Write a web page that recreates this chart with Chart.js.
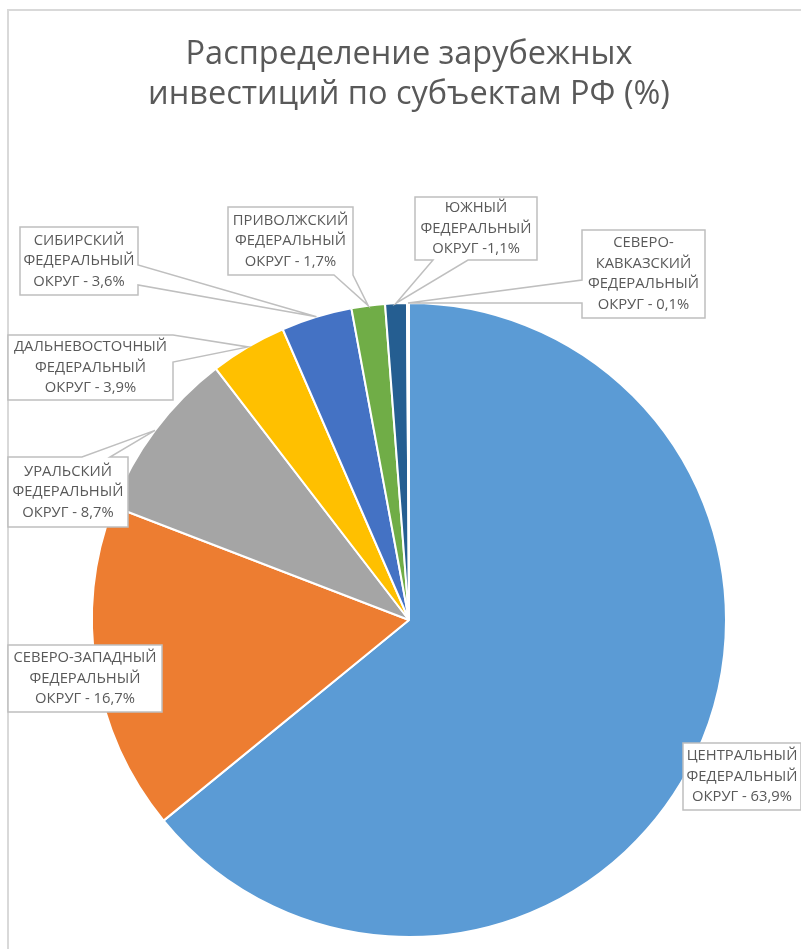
<!DOCTYPE html>
<html>
<head>
<meta charset="utf-8">
<script src="https://cdn.jsdelivr.net/npm/chart.js@4.4.1/dist/chart.umd.min.js"></script>
<style>
  html, body { margin: 0; padding: 0; background: #fff; }
  #wrap { width: 801px; height: 949px; }
</style>
</head>
<body>
<div id="wrap"><canvas id="chart" width="801" height="949"></canvas></div>
<script>
// данные
const okruga = ['ЦЕНТРАЛЬНЫЙ', 'СЕВЕРО-ЗАПАДНЫЙ', 'УРАЛЬСКИЙ', 'ДАЛЬНЕВОСТОЧНЫЙ',
  'СИБИРСКИЙ', 'ПРИВОЛЖСКИЙ', 'ЮЖНЫЙ', 'СЕВЕРО-КАВКАЗСКИЙ'];
const doli = [63.9, 16.7, 8.7, 3.9, 3.6, 1.7, 1.1, 0.1];
const tsveta = ['#5B9BD5', '#ED7D31', '#A5A5A5', '#FFC000', '#4472C4', '#70AD47', '#255E91', '#9E480E'];
const zagolovok = ['Распределение зарубежных', 'инвестиций по субъектам РФ (%)'];

// где стоят подписи (только раскладка)
const vynoski = [
  { x: 683, y: 743, w: 118, h: 67 },
  { x: 8, y: 645, w: 154, h: 67 },
  { x: 8, y: 457, w: 120, h: 70, wedge: { side: 'top', from: 74, to: 102 } },
  { x: 8, y: 335, w: 165, h: 65, wedge: { side: 'right', from: 0, to: 27 } },
  { x: 20, y: 227, w: 118, h: 68, wedge: { side: 'right', from: 38, to: 58 } },
  { x: 228, y: 207, w: 125, h: 68, wedge: { side: 'bottom', from: 106, to: 125 } },
  { x: 415, y: 197, w: 122, h: 63, wedge: { side: 'bottom', from: 18, to: 53 }, sep: ' -' },
  { x: 582, y: 230, w: 123, h: 88, wedge: { side: 'left', from: 50, to: 73 }, split: true }
];

const FONT = '"Open Sans", "Noto Sans", sans-serif';
const GREY = '#595959';

// подбираем размер шрифта по ширине как в оригинале
function fitSize(text, target) {
  const c = document.createElement('canvas').getContext('2d');
  c.font = '100px ' + FONT;
  return 100 * target / c.measureText(text).width;
}
const titleSize = fitSize(zagolovok[0], 447);
const labelSize = fitSize('ФЕДЕРАЛЬНЫЙ', 111);

function fmt(v) {
  return String(v).replace('.', ',') + '%';
}

function labelLines(i) {
  const b = vynoski[i];
  const name = okruga[i];
  const first = b.split ? [name.split('-')[0] + '-', name.split('-')[1]] : [name];
  return first.concat(['ФЕДЕРАЛЬНЫЙ', 'ОКРУГ' + (b.sep || ' - ') + fmt(doli[i])]);
}

function drawCallout(ctx, b, tip) {
  const x0 = b.x, y0 = b.y, x1 = b.x + b.w, y1 = b.y + b.h;
  const inside = tip.x >= x0 && tip.x <= x1 && tip.y >= y0 && tip.y <= y1;
  const w = inside ? null : b.wedge;
  ctx.beginPath();
  ctx.moveTo(x0, y0);
  if (w && w.side === 'top') { ctx.lineTo(x0 + w.from, y0); ctx.lineTo(tip.x, tip.y); ctx.lineTo(x0 + w.to, y0); }
  ctx.lineTo(x1, y0);
  if (w && w.side === 'right') { ctx.lineTo(x1, y0 + w.from); ctx.lineTo(tip.x, tip.y); ctx.lineTo(x1, y0 + w.to); }
  ctx.lineTo(x1, y1);
  if (w && w.side === 'bottom') { ctx.lineTo(x0 + w.to, y1); ctx.lineTo(tip.x, tip.y); ctx.lineTo(x0 + w.from, y1); }
  ctx.lineTo(x0, y1);
  if (w && w.side === 'left') { ctx.lineTo(x0, y0 + w.to); ctx.lineTo(tip.x, tip.y); ctx.lineTo(x0, y0 + w.from); }
  ctx.closePath();
  ctx.fillStyle = '#fff';
  ctx.fill();
  ctx.strokeStyle = '#BFBFBF';
  ctx.lineWidth = 1.5;
  ctx.stroke();
}

const framePlugin = {
  id: 'frame',
  beforeDraw(chart) {
    const ctx = chart.ctx;
    ctx.save();
    ctx.strokeStyle = '#D9D9D9';
    ctx.lineWidth = 2;
    ctx.beginPath();
    ctx.moveTo(8, chart.height);
    ctx.lineTo(8, 10);
    ctx.lineTo(chart.width, 10);
    ctx.stroke();
    ctx.restore();
  }
};

const calloutPlugin = {
  id: 'callouts',
  afterDatasetsDraw(chart) {
    const ctx = chart.ctx;
    const arcs = chart.getDatasetMeta(0).data;
    ctx.save();
    arcs.forEach((arc, i) => {
      const p = arc.getProps(['x', 'y', 'startAngle', 'endAngle', 'outerRadius'], true);
      const mid = (p.startAngle + p.endAngle) / 2;
      const tip = { x: p.x + Math.cos(mid) * p.outerRadius, y: p.y + Math.sin(mid) * p.outerRadius };
      const b = vynoski[i];
      drawCallout(ctx, b, tip);
      const lines = labelLines(i);
      const lh = 20.5;
      const cx = b.x + b.w / 2;
      const cy = b.y + b.h / 2;
      ctx.fillStyle = GREY;
      ctx.font = labelSize.toFixed(2) + 'px ' + FONT;
      ctx.textAlign = 'center';
      ctx.textBaseline = 'middle';
      lines.forEach((t, k) => {
        ctx.fillText(t, cx, cy + (k - (lines.length - 1) / 2) * lh);
      });
    });
    ctx.restore();
  }
};

new Chart(document.getElementById('chart'), {
  type: 'pie',
  data: {
    labels: okruga,
    datasets: [{
      data: doli,
      backgroundColor: tsveta,
      borderColor: '#ffffff',
      borderWidth: 2,
      hoverOffset: 0
    }]
  },
  options: {
    responsive: false,
    animation: false,
    layout: { padding: { left: 91, right: 74, top: 0, bottom: 11 } },
    plugins: {
      legend: { display: false },
      tooltip: { enabled: false },
      title: {
        display: true,
        text: zagolovok,
        color: GREY,
        font: { family: FONT, size: titleSize, weight: 'normal', lineHeight: '40px' },
        padding: { top: 35, bottom: 187 }
      }
    }
  },
  plugins: [framePlugin, calloutPlugin]
});
</script>
</body>
</html>
